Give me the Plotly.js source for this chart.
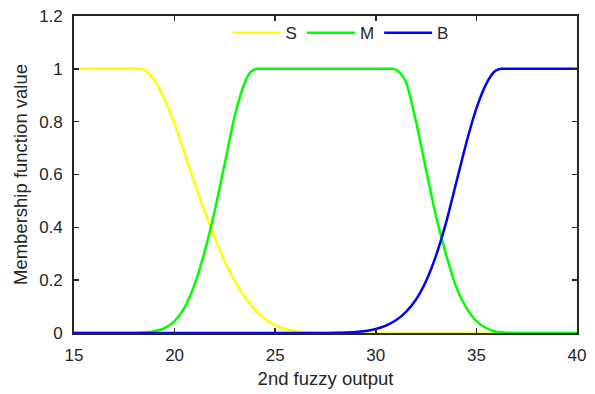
<!DOCTYPE html>
<html>
<head>
<meta charset="utf-8">
<script src="https://cdn.plot.ly/plotly-3.0.1.min.js"></script>
<style>html,body{margin:0;padding:0;background:#fff;}#chart{width:595px;height:394px;}</style>
</head>
<body>
<div id="chart"></div>
<script>
// Series S (small)
var sX = [15, 16, 17, 17.8, 18.1, 18.3, 18.6, 19, 19.5, 20, 20.5, 21, 21.5, 22, 22.5, 23, 23.5, 24, 24.5, 25, 25.5, 26, 26.5, 27, 27.5, 28, 29, 30, 35, 40];
var sY = [1, 1, 1, 1, 1, 1, 0.99, 0.955, 0.885, 0.79, 0.68, 0.565, 0.46, 0.36, 0.27, 0.195, 0.135, 0.088, 0.053, 0.029, 0.015, 0.007, 0.003, 0.001, 0, 0, 0, 0, 0, 0];
// Series M (medium)
var mX = [15, 16, 17, 17.5, 18, 18.5, 19, 19.5, 20, 20.5, 21, 21.5, 22, 22.5, 23, 23.5, 23.8, 24.1, 24.4, 24.8, 25, 27, 29, 30, 30.3, 30.6, 30.9, 31.2, 31.5, 32, 32.5, 33, 33.5, 34, 34.5, 35, 35.5, 36, 36.5, 37, 37.5, 38, 39, 40];
var mY = [0, 0, 0, 0, 0, 0.002, 0.007, 0.018, 0.045, 0.097, 0.185, 0.31, 0.465, 0.645, 0.825, 0.95, 0.99, 1, 1, 1, 1, 1, 1, 1, 1, 1, 1, 0.985, 0.95, 0.8, 0.617, 0.44, 0.295, 0.173, 0.095, 0.045, 0.018, 0.005, 0.001, 0, 0, 0, 0, 0];
// Series B (big)
var bX = [15, 20, 25, 26, 27, 28, 29, 29.5, 30, 30.5, 31, 31.5, 32, 32.5, 33, 33.5, 34, 34.5, 35, 35.5, 35.9, 36.2, 36.5, 36.8, 37, 38, 39, 40];
var bY = [0, 0, 0, 0, 0, 0.001, 0.004, 0.008, 0.015, 0.028, 0.048, 0.08, 0.127, 0.197, 0.295, 0.42, 0.57, 0.72, 0.85, 0.945, 0.99, 1, 1, 1, 1, 1, 1, 1];

var names = ['S', 'M', 'B'];
var colors = ['#ffff00', '#00ff00', '#0000ff'];
var xTicks = [15, 20, 25, 30, 35, 40];
var yTicks = [0, 0.2, 0.4, 0.6, 0.8, 1, 1.2];

var xs = [sX, mX, bX];
var ys = [sY, mY, bY];
var traces = names.map(function (n, i) {
  return {
    x: xs[i], y: ys[i], name: n, type: 'scatter', mode: 'lines',
    line: { color: colors[i], width: 2.5, shape: 'spline', smoothing: 0.6 }
  };
});

var FONT = 'Liberation Sans, Arial, sans-serif';
var axisCommon = {
  showline: true, linecolor: '#262626', linewidth: 1.8, mirror: 'ticks',
  ticks: 'inside', ticklen: 5, tickwidth: 1.6, tickcolor: '#262626',
  showgrid: false, zeroline: false,
  tickfont: { family: FONT, size: 17, color: '#262626' }
};

var layout = {
  width: 595, height: 394,
  margin: { l: 74, r: 18, t: 16, b: 61 },
  paper_bgcolor: '#ffffff', plot_bgcolor: '#ffffff',
  showlegend: true,
  legend: {
    orientation: 'h', x: 0.53, y: 0.946, xanchor: 'center', yanchor: 'middle',
    bgcolor: 'rgba(255,255,255,0)', borderwidth: 0,
    font: { family: FONT, size: 17, color: '#262626' },
    itemwidth: 48, tracegroupgap: 0
  },
  xaxis: Object.assign({}, axisCommon, {
    range: [15, 40], tickvals: xTicks, ticktext: xTicks.map(String),
    ticklabelstandoff: 6,
    title: { text: '2nd fuzzy output', standoff: 8,
      font: { family: FONT, size: 18.5, color: '#262626' } }
  }),
  yaxis: Object.assign({}, axisCommon, {
    range: [0, 1.2], tickvals: yTicks, ticktext: yTicks.map(String),
    ticklabelstandoff: 6,
    title: { text: 'Membership function value', standoff: 7,
      font: { family: FONT, size: 18.5, color: '#262626' } }
  })
};

Plotly.newPlot('chart', traces, layout, { displayModeBar: false, staticPlot: true });
</script>
</body>
</html>
